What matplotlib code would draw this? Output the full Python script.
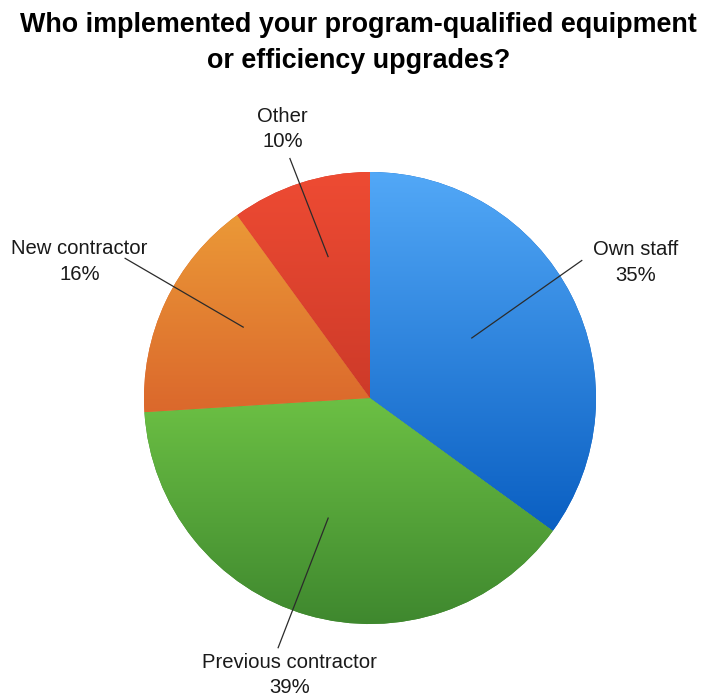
import numpy as np
import matplotlib
matplotlib.use("Agg")
import matplotlib.pyplot as plt
from matplotlib.colors import LinearSegmentedColormap

# Survey answers, in the order they run clockwise from 12 o'clock
categories = ["Own staff", "Previous contractor", "New contractor", "Other"]
shares = [35, 39, 16, 10]

# Vertical gradient per slice: (top colour, bottom colour)
gradients = [
    ("#52a8f7", "#0a5fc2"),
    ("#6cc044", "#3e872e"),
    ("#eb9937", "#db682c"),
    ("#ee4b33", "#cd3a29"),
]

# Leader-line and label placement, relative to each slice's middle angle
# (inner radius, inner angle offset, outer radius, outer angle offset, label radius)
leader = [
    (0.52, 3.5, 1.12, 6.0, 1.32),
    (0.56, -3.0, 1.18, -4.0, 1.275),
    (0.64, -4.0, 1.25, -4.5, 1.42),
    (0.65, -1.5, 1.12, 0.5, 1.25),
]

W, H, DPI = 717, 698, 100
cx, cy, R = 370, 398, 226  # pie centre and radius in pixels

fig = plt.figure(figsize=(W / DPI, H / DPI), dpi=DPI)
fig.patch.set_facecolor("white")
ax = fig.add_axes([0, 0, 1, 1])

wedges, _ = ax.pie(shares, startangle=90, counterclock=False, radius=1,
                   center=(0, 0), wedgeprops=dict(linewidth=0))

ramp = np.linspace(0, 1, 256).reshape(-1, 1)
for w, (top, bottom) in zip(wedges, gradients):
    cmap = LinearSegmentedColormap.from_list("g", [top, bottom])
    w.set_facecolor(bottom)
    verts = w.get_path().vertices
    verts = w.get_patch_transform().transform(verts)
    x0, y0 = verts.min(axis=0)
    x1, y1 = verts.max(axis=0)
    im = ax.imshow(ramp, cmap=cmap, extent=(x0, x1, y0, y1), origin="upper",
                   aspect="auto", interpolation="bilinear", zorder=1.5)
    im.set_clip_path(w)

# Labels with leader lines
total = float(sum(shares))
angle = 90.0
for name, val, (r_in, d_in, r_out, d_out, r_txt) in zip(categories, shares, leader):
    sweep = 360.0 * val / total
    mid = angle - sweep / 2
    angle -= sweep
    a_in = np.deg2rad(mid + d_in)
    a_out = np.deg2rad(mid + d_out)
    a_txt = np.deg2rad(mid)
    ax.plot([r_in * np.cos(a_in), r_out * np.cos(a_out)],
            [r_in * np.sin(a_in), r_out * np.sin(a_out)],
            color="#2b2b2b", linewidth=0.9, zorder=3, solid_capstyle="butt")
    ax.text(r_txt * np.cos(a_txt), r_txt * np.sin(a_txt), f"{name}\n{val}%",
            ha="center", va="center", fontsize=14.6, family="Liberation Sans",
            color="#1a1a1a", linespacing=1.42, zorder=4)

ax.set_xlim((0 - cx) / R, (W - cx) / R)
ax.set_ylim((cy - H) / R, (cy - 0) / R)
ax.set_aspect("auto")
ax.axis("off")

fig.text(0.5, 1 - 25 / H, "Who implemented your program-qualified equipment",
         ha="center", va="center", fontsize=19.4, fontweight="bold",
         family="Liberation Sans", color="black")
fig.text(0.5, 1 - 61 / H, "or efficiency upgrades?",
         ha="center", va="center", fontsize=19.4, fontweight="bold",
         family="Liberation Sans", color="black")

fig.savefig("out.png", dpi=DPI, facecolor="white")
